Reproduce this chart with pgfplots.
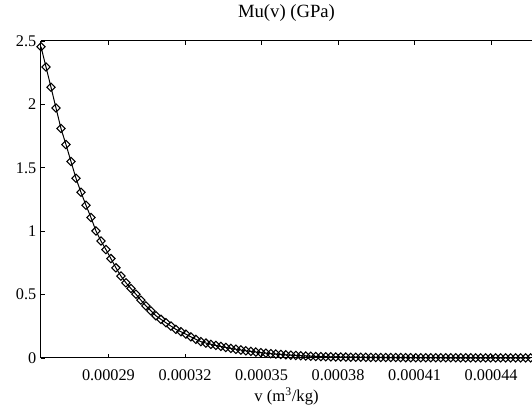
\documentclass[border=0pt]{standalone}
\usepackage{fontspec}
\setmainfont{Liberation Serif}
\usepackage{pgfplots}
\pgfplotsset{compat=1.18}
\usepackage{pgfplotstable}
\pgfplotstableread{
v mu
2.6357e-4 2.455
2.6553e-4 2.295
2.6749e-4 2.135
2.6944e-4 1.972
2.7140e-4 1.810
2.7336e-4 1.683
2.7532e-4 1.550
2.7728e-4 1.417
2.7923e-4 1.307
2.8119e-4 1.205
2.8315e-4 1.108
2.8511e-4 1.002
2.8707e-4 0.923
2.8903e-4 0.855
2.9098e-4 0.784
2.9294e-4 0.711
2.9490e-4 0.646
2.9686e-4 0.593
2.9882e-4 0.548
3.0077e-4 0.503
3.0273e-4 0.456
3.0469e-4 0.411
3.0665e-4 0.372
3.0861e-4 0.333
3.1057e-4 0.305
3.1252e-4 0.278
3.1448e-4 0.252
3.1644e-4 0.226
3.1840e-4 0.207
3.2036e-4 0.188
3.2231e-4 0.167
3.2427e-4 0.147
3.2623e-4 0.129
3.2819e-4 0.118
3.3015e-4 0.108
3.3211e-4 0.099
3.3406e-4 0.091
3.3602e-4 0.083
3.3798e-4 0.076
3.3994e-4 0.069
3.4190e-4 0.063
3.4385e-4 0.057
3.4581e-4 0.052
3.4777e-4 0.047
3.4973e-4 0.042
3.5169e-4 0.038
3.5364e-4 0.034
3.5560e-4 0.031
3.5756e-4 0.028
3.5952e-4 0.025
3.6148e-4 0.022
3.6344e-4 0.020
3.6539e-4 0.018
3.6735e-4 0.016
3.6931e-4 0.014
3.7127e-4 0.012
3.7323e-4 0.011
3.7518e-4 0.010
3.7714e-4 0.009
3.7910e-4 0.008
3.8106e-4 0.0075
3.8302e-4 0.007
3.8497e-4 0.0065
3.8693e-4 0.006
3.8889e-4 0.0055
3.9085e-4 0.005
3.9281e-4 0.0047
3.9476e-4 0.0044
3.9672e-4 0.0041
3.9868e-4 0.0038
4.0064e-4 0.0035
4.0260e-4 0.0033
4.0455e-4 0.0031
4.0651e-4 0.0029
4.0847e-4 0.0027
4.1043e-4 0.0025
4.1239e-4 0.0024
4.1434e-4 0.0023
4.1630e-4 0.0022
4.1826e-4 0.0021
4.2022e-4 0.0020
4.2218e-4 0.0019
4.2413e-4 0.0018
4.2609e-4 0.0017
4.2805e-4 0.0016
4.3001e-4 0.0015
4.3197e-4 0.0015
4.3392e-4 0.0014
4.3588e-4 0.0014
4.3784e-4 0.0013
4.3980e-4 0.0013
4.4176e-4 0.0012
4.4371e-4 0.0012
4.4567e-4 0.0011
4.4763e-4 0.0011
4.4959e-4 0.0010
4.5155e-4 0.0010
4.5350e-4 0.0010
4.5546e-4 0.0009
}\mudata
\begin{document}
\begin{tikzpicture}
\begin{axis}[
  name=ax,
  scale only axis,
  width=368.25pt, height=237.75pt,
  xmin=2.6357e-4, xmax=4.56e-4,
  ymin=0, ymax=2.5,
  axis y line*=left,
  scaled x ticks=false,
  xtick={0.00029,0.00032,0.00035,0.00038,0.00041,0.00044},
  xticklabels={0.00029,0.00032,0.00035,0.00038,0.00041,0.00044},
  ytick={0,0.5,1,1.5,2,2.5},
  yticklabels={0,0.5,1,1.5,2,2.5},
  tick align=inside,
  major tick length=3pt,
  tick style={black, line width=0.6pt},
  axis line style={black, line width=0.75pt},
  ticklabel style={font=\fontsize{12.2}{14}\selectfont},
  xticklabel style={yshift=-5pt},
  /pgf/number format/assume math mode=true,
  title={Mu(v) (GPa)},
  title style={font=\fontsize{14}{16}\selectfont, yshift=5pt},
  xlabel={v (m\textsuperscript{3}/kg)},
  xlabel style={font=\fontsize{12.5}{14}\selectfont, yshift=1pt},
  clip=false,
]
\addplot[black, line width=0.75pt, mark=square, mark size=2.2pt,
  mark options={solid, rotate=45, line width=0.8pt, fill=none}] table[x=v, y=mu] {\mudata};
\end{axis}
\pgfresetboundingbox
\path[use as bounding box] ([shift={(-30.75pt,-41.25pt)}]ax.south west) rectangle ([shift={(0pt,30.75pt)}]ax.north east);
\end{tikzpicture}
\end{document}
